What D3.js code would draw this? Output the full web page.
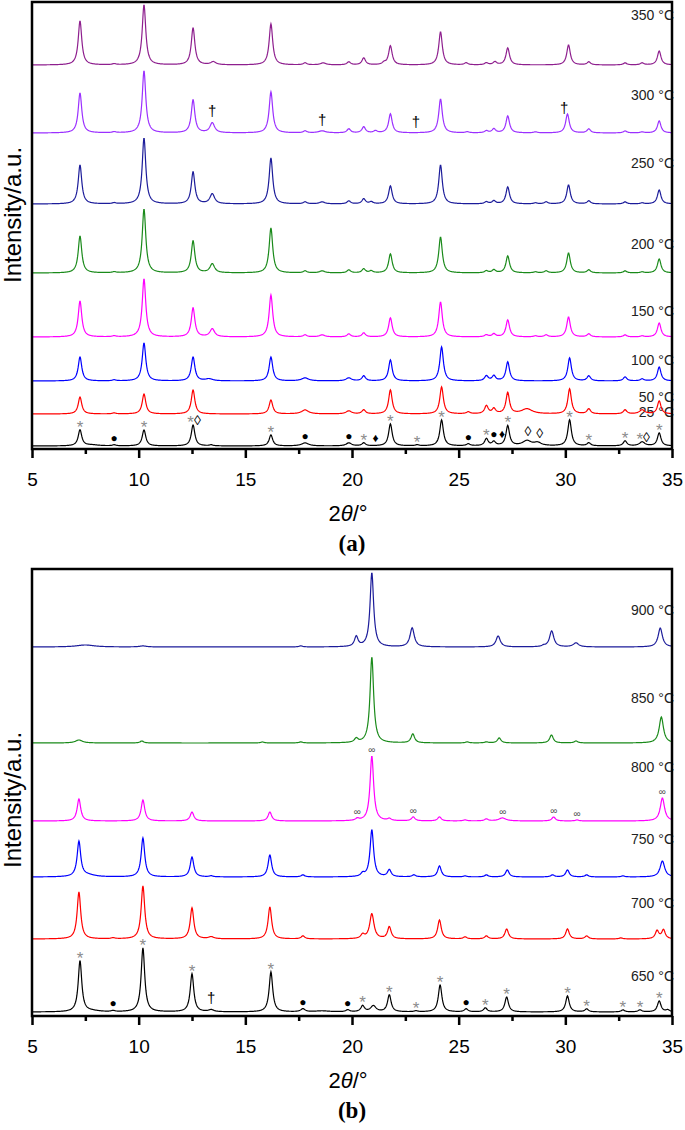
<!DOCTYPE html>
<html>
<head>
<meta charset="utf-8">
<title>XRD patterns</title>
<script src="https://d3js.org/d3.v7.min.js"></script>
<style>
  body { margin: 0; background: #fff; }
  text { font-family: "Liberation Sans", Arial, sans-serif; }
</style>
</head>
<body>
<div id="chart"></div>
<script>

// 2θ axis
let xTicks = [5, 10, 15, 20, 25, 30, 35];
let xMinor = [7.5, 12.5, 17.5, 22.5, 27.5, 32.5];

// ---- panel (a): 25 - 350 °C ----
// peaks: [2θ, intensity above trace offset, (half width)]
let p25 = [[7.25,16],[7.8,1,0.4],[8.85,1],[10.25,16],[12.55,21],[13.4,1],[16.2,11],[17.8,3,0.2],[19.85,3,0.15],[20.55,3],[21.8,22],[23.05,1],[24.2,26],[25.45,2],[26.3,7],[26.65,4],[27.3,20],[28.2,5,0.25],[28.7,3,0.2],[30.2,26],[31.1,3],[32.8,5],[33.6,4,0.15],[34.4,13]];
let p50 = [[7.25,17],[8.85,1],[10.25,20],[12.55,24],[16.2,14],[17.8,4,0.2],[19.85,3,0.15],[20.55,4],[21.8,24],[24.2,27],[25.45,2],[26.3,8],[26.65,5],[27.3,21],[28.2,5,0.3],[30.2,25],[31.1,5],[32.8,4],[33.6,4,0.15],[34.4,13]];
let p100 = [[7.25,24],[8.85,1],[10.25,38],[12.55,24],[13.3,2,0.2],[16.2,24],[17.8,3,0.2],[19.85,3,0.15],[20.55,5],[21.8,21],[24.2,34],[26.3,5],[26.65,5],[27.3,19],[30.2,23],[31.1,5],[32.8,4],[33.6,2],[34.4,14]];
let p150 = [[7.25,36],[8.85,1],[10.25,58],[12.55,29],[13.45,8,0.13],[16.2,42],[17.8,2],[18.6,2,0.15],[19.85,3],[20.55,4],[21.8,19],[24.15,35],[26.3,2],[26.65,3],[27.3,17],[28.6,1],[29.1,2],[30.15,20],[31.1,3],[32.8,2],[33.6,1],[34.4,14]];
let p200 = [[7.25,37],[8.85,1],[10.25,64],[12.55,32],[13.45,9,0.13],[16.2,45],[17.8,2],[18.6,2,0.15],[19.85,3],[20.55,4],[20.9,2],[21.8,19],[24.15,36],[26.3,2],[26.65,3],[27.3,17],[28.6,1],[29.1,2],[30.15,20],[31.1,3],[32.8,2],[33.6,1],[34.4,14]];
let p250 = [[7.25,39],[8.85,1],[10.25,66],[12.55,32],[13.45,10,0.13],[16.2,46],[17.8,2],[18.6,2,0.15],[19.85,3],[20.55,5],[20.9,2],[21.8,18],[24.15,39],[26.3,2],[26.65,3],[27.3,17],[28.6,1],[29.1,2],[30.15,19],[31.1,3],[32.8,2],[33.6,1],[34.4,14]];
let p300 = [[7.25,40],[8.85,1],[10.25,62],[12.55,33],[13.45,10,0.13],[16.2,41],[17.8,2],[18.6,2,0.2],[19.85,4],[20.55,6],[21.1,2],[21.8,19],[24.15,34],[25.4,1],[26.3,2],[26.65,4],[27.3,17],[28.6,1],[30.1,19],[31.1,4],[32.8,2],[33.6,1],[34.4,12]];
let p350 = [[7.25,44],[8.85,1],[10.25,60],[12.55,37],[13.5,3,0.15],[16.2,41],[17.8,2],[18.65,2,0.15],[19.85,3],[20.55,7],[21.5,2],[21.8,19],[24.15,33],[25.35,2],[26.3,2],[26.7,3],[27.3,17],[30.15,20],[31.1,3],[32.8,2],[33.6,2],[34.4,14]];

let tempsA = ["25 °C", "50 °C", "100 °C", "150 °C", "200 °C", "250 °C", "300 °C", "350 °C"];
let peaksA = [p25, p50, p100, p150, p200, p250, p300, p350];
let offsetsA = [3, 35, 68, 112, 176, 245, 316, 384];

// phase marks on the 25 °C pattern and on the 300 °C pattern
let marks25 = [[7.25,"*"],[8.85,"●"],[10.25,"*"],[12.6,"*◊"],[16.2,"*"],[17.8,"●"],[19.85,"●"],[20.55,"*"],[21.1,"♦"],[21.8,"*"],[23.05,"*"],[24.2,"*"],[25.45,"●"],[26.3,"*"],[26.65,"●"],[27.03,"♦"],[27.3,"*"],[28.25,"◊"],[28.8,"◊"],[30.2,"*"],[31.1,"*"],[32.8,"*"],[33.65,"*◊"],[34.4,"*"]];
let marks300 = [[13.45,"†"],[18.6,"†"],[23.0,"†"],[29.95,"†"]];

// ---- panel (b): 650 - 900 °C ----
let p650 = [[7.25,51],[7.8,1,0.4],[8.8,1],[10.2,64],[12.5,38],[13.4,2,0.15],[16.2,40],[17.7,3,0.12],[18.6,1,0.4],[19.8,2],[20.5,6],[21.0,6,0.15],[21.75,17],[23.0,1],[24.13,27],[25.35,3],[26.25,4],[27.25,15],[30.1,16],[31.0,3],[32.7,2],[33.5,2],[34.4,11],[34.8,2]];
let p700 = [[7.2,47],[8.8,1],[10.2,53],[12.5,31],[13.4,2,0.15],[16.15,32],[17.7,3],[20.5,4],[20.93,25,0.12],[21.75,12],[24.1,19],[25.3,2],[26.3,3],[27.25,10],[30.1,10],[31.0,3],[32.6,1],[34.3,8],[34.6,9]];
let p750 = [[7.2,35],[7.6,2,0.4],[10.2,39],[12.5,20],[13.4,1],[16.15,22],[17.7,2],[20.5,3],[20.93,47],[21.75,7],[22.9,2],[24.1,11],[25.3,1],[26.3,2],[27.28,7],[29.4,2],[30.1,7],[31.0,2],[32.7,1],[34.55,16,0.13]];
let p800 = [[7.2,22],[10.2,21],[12.5,9],[16.15,9],[20.25,2],[20.93,65,0.1],[21.75,2],[22.87,4],[24.1,4],[25.3,1],[26.3,2],[27.05,3,0.2],[29.45,4],[30.55,1],[34.55,23,0.12]];
let p850 = [[7.2,3,0.2],[10.15,2],[15.8,1],[17.6,1],[20.2,4],[20.93,86,0.1],[22.85,9],[25.4,1],[26.3,1],[26.9,5],[29.35,8],[30.5,2],[34.5,26,0.12]];
let p900 = [[7.5,2,0.5],[10.2,1,0.2],[17.6,1],[20.2,10],[20.93,74,0.1],[22.82,19,0.12],[26.85,11,0.12],[28.98,1],[29.36,16,0.12],[30.5,4,0.15],[34.45,19,0.12]];

let tempsB = ["650 °C", "700 °C", "750 °C", "800 °C", "850 °C", "900 °C"];
let peaksB = [p650, p700, p750, p800, p850, p900];
let offsetsB = [4, 77, 139, 195, 273, 369];

let marks650 = [[7.25,"*"],[8.8,"●"],[10.2,"*"],[12.5,"*"],[13.4,"†"],[16.2,"*"],[17.7,"●"],[19.8,"●"],[20.5,"*"],[21.75,"*"],[23.0,"*"],[24.13,"*"],[25.35,"●"],[26.25,"*"],[27.25,"*"],[30.1,"*"],[31.0,"*"],[32.7,"*"],[33.5,"*"],[34.4,"*"]];
let marks800 = [[20.25,"∞"],[20.93,"∞"],[22.87,"∞"],[27.07,"∞"],[29.46,"∞"],[30.55,"∞"],[34.55,"∞"]];

// ---- styles / layout ----
let colorsA = ["#000000", "#ff0000", "#0000ff", "#ff00ff", "#1a8a1a", "#1c1c9a", "#9b30ff", "#8e1f8e"];
let colorsB = ["#000000", "#ff0000", "#0000ff", "#ff00ff", "#1a8a1a", "#1c1c9a"];
let labelLevelA = [32, 47, 84, 133, 200, 281, 349, 429];
let labelLevelB = [35, 108, 172, 244, 313, 401];

let symStyle = {
  "*": {size: 17, fill: "#8c8c8c", lift: -3},
  "●": {size: 12, fill: "#000", lift: 3},
  "♦": {size: 12, fill: "#000", lift: 3},
  "◊": {size: 14, fill: "#000", lift: 4},
  "†": {size: 15, fill: "#000", lift: 6},
  "∞": {size: 10, fill: "#555", lift: 3}
};

let W = 685, H = 1130;
let margin = {left: 32, right: 13};

let svg = d3.select("#chart").append("svg")
  .attr("width", W).attr("height", H);

let x = d3.scaleLinear().domain([5, 35]).range([margin.left, W - margin.right]);

function profile(peaks, t) {
  let s = 0;
  peaks.forEach(function(p) {
    let g = p[2] || 0.1;
    let d = (t - p[0]) / g;
    s += p[1] / (1 + d * d);
  });
  return s;
}

let grid = d3.range(5, 35.001, 0.02);

function drawPanel(cfg) {
  let g = svg.append("g");
  let y = d3.scaleLinear().domain([0, 447]).range([cfg.bottom, cfg.top]);

  let line = d3.line()
    .x(function(d) { return x(d[0]); })
    .y(function(d) { return y(d[1]); });

  cfg.peaks.forEach(function(pk, i) {
    let pts = grid.map(function(t) { return [t, cfg.offsets[i] + profile(pk, t)]; });
    g.append("path")
      .attr("d", line(pts))
      .attr("fill", "none")
      .attr("stroke", cfg.colors[i])
      .attr("stroke-width", 1.2);

    g.append("text")
      .attr("x", x(35) + 2)
      .attr("y", y(cfg.labelLevel[i]))
      .attr("text-anchor", "end")
      .attr("font-size", "14px")
      .attr("fill", "#222")
      .text(cfg.temps[i]);
  });

  // phase marks
  cfg.marks.forEach(function(m) {
    let idx = m.series;
    m.list.forEach(function(d) {
      let top = 0;
      for (let t = d[0] - 0.1; t <= d[0] + 0.1; t += 0.01) {
        top = Math.max(top, profile(cfg.peaks[idx], t));
      }
      let first = d[1].charAt(0);
      let st = symStyle[first];
      let txt = g.append("text")
        .attr("x", x(d[0]))
        .attr("y", y(cfg.offsets[idx] + top) - st.lift)
        .attr("text-anchor", "middle");
      d[1].split("").forEach(function(ch) {
        let s2 = symStyle[ch];
        let ts = txt.append("tspan")
          .attr("font-size", s2.size + "px")
          .attr("fill", s2.fill)
          .text(ch);
        if (ch !== first) ts.attr("dy", -3);
      });
    });
  });

  // axis
  let ax = g.append("g")
    .attr("transform", "translate(0," + cfg.bottom + ")")
    .call(d3.axisBottom(x).tickValues(xTicks).tickSize(9).tickPadding(15).tickFormat(d3.format("d")));
  ax.select(".domain").remove();
  ax.selectAll(".tick line").attr("stroke-width", 2.5);
  ax.selectAll(".tick text").attr("font-size", "19px").attr("font-family", "Liberation Sans, Arial, sans-serif").attr("fill", "#000");

  let axm = g.append("g")
    .attr("transform", "translate(0," + cfg.bottom + ")")
    .call(d3.axisBottom(x).tickValues(xMinor).tickSize(5).tickFormat(""));
  axm.select(".domain").remove();
  axm.selectAll(".tick line").attr("stroke-width", 2.5);

  // frame
  g.append("rect")
    .attr("x", x(5)).attr("y", cfg.top)
    .attr("width", x(35) - x(5)).attr("height", cfg.bottom - cfg.top)
    .attr("fill", "none").attr("stroke", "#000").attr("stroke-width", 2.5);

  // titles
  let xt = g.append("text")
    .attr("x", (x(5) + x(35)) / 2 - 4)
    .attr("y", cfg.bottom + 72)
    .attr("text-anchor", "middle")
    .attr("font-size", "22px");
  xt.append("tspan").text("2");
  xt.append("tspan").attr("font-style", "italic").text("θ");
  xt.append("tspan").text("/°");

  g.append("text")
    .attr("x", (x(5) + x(35)) / 2)
    .attr("y", cfg.bottom + 102)
    .attr("text-anchor", "middle")
    .attr("font-size", "23px")
    .attr("font-weight", "bold")
    .style("font-family", "'Liberation Serif', 'Times New Roman', serif")
    .text(cfg.tag);

  g.append("text")
    .attr("transform", "translate(21," + cfg.titleY + ") rotate(-90)")
    .attr("text-anchor", "middle")
    .attr("font-size", "24px")
    .text("Intensity/a.u.");
}

drawPanel({
  top: 2, bottom: 449, peaks: peaksA, offsets: offsetsA, colors: colorsA,
  temps: tempsA, labelLevel: labelLevelA, tag: "(a)", titleY: 215,
  marks: [{series: 0, list: marks25}, {series: 6, list: marks300}]
});

drawPanel({
  top: 569, bottom: 1016, peaks: peaksB, offsets: offsetsB, colors: colorsB,
  temps: tempsB, labelLevel: labelLevelB, tag: "(b)", titleY: 800,
  marks: [{series: 0, list: marks650}, {series: 3, list: marks800}]
});

</script>
</body>
</html>
